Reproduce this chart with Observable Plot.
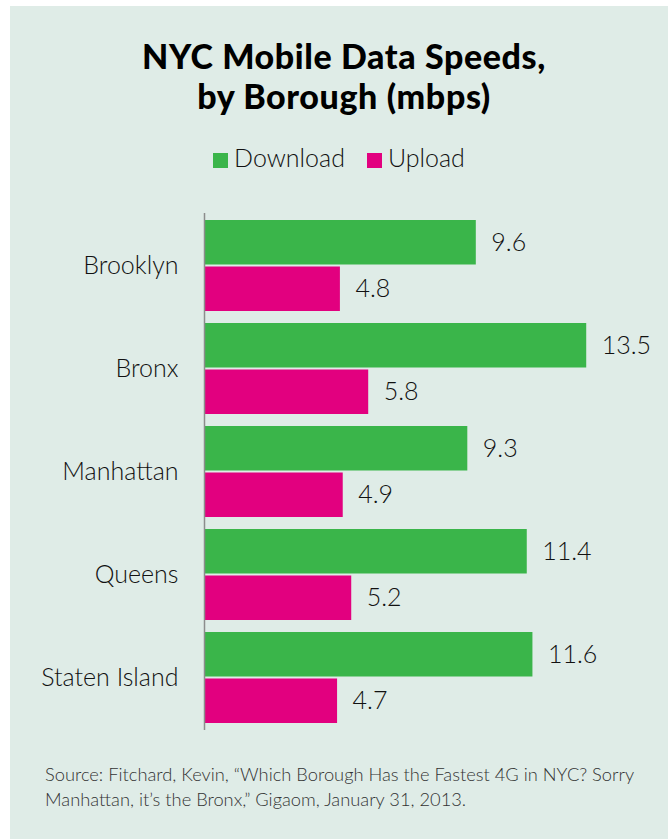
<!DOCTYPE html>
<html>
<head>
<meta charset="utf-8">
<script src="https://cdn.jsdelivr.net/npm/d3@7"></script>
<script src="https://cdn.jsdelivr.net/npm/@observablehq/plot@0.6"></script>
<style>
  html, body { margin: 0; padding: 0; background: #ffffff; }
  #page { position: relative; width: 668px; height: 839px; overflow: hidden; background: #ffffff; }
  #panel { position: absolute; left: 10px; top: 6px; width: 658px; height: 833px; background: #dfece7; }
  #title { position: absolute; left: 10px; width: 668px; top: 36px; text-align: center;
    font-family: Lato, "Open Sans", sans-serif; font-weight: 900; font-size: 34px; line-height: 40px; color: #000; letter-spacing: 0.6px; }
  #legend { position: absolute; left: 10px; width: 658px; top: 142px; text-align: center;
    font-family: Lato, sans-serif; font-weight: 300; font-size: 25px; line-height: 30px; color: #111; }
  #legend .sw { display: inline-block; width: 15px; height: 15px; vertical-align: -1px; margin-right: 6px; }
  #legend .item { margin: 0 11px; }
  #chart { position: absolute; left: 0; top: 0; }
  #caption { position: absolute; left: 45px; top: 762px; width: 630px; white-space: nowrap;
    font-family: Lato, sans-serif; font-weight: 300; font-size: 18.3px; line-height: 25px; color: #333; }
</style>
</head>
<body>
<div id="page">
  <div id="panel"></div>
  <div id="title">NYC Mobile Data Speeds,<br>by Borough (mbps)</div>
  <div id="legend"></div>
  <div id="chart"></div>
  <div id="caption">Source: Fitchard, Kevin, “Which Borough Has the Fastest 4G in NYC? Sorry<br>Manhattan, it’s the Bronx,” Gigaom, January 31, 2013.</div>
</div>
<script>
const boroughs = ["Brooklyn", "Bronx", "Manhattan", "Queens", "Staten Island"];
const download = [9.6, 13.5, 9.3, 11.4, 11.6];
const upload = [4.8, 5.8, 4.9, 5.2, 4.7];
const seriesNames = ["Download", "Upload"];
const seriesColors = ["#3ab54a", "#e2007f"];

const dl = boroughs.map((b, i) => ({borough: b, value: download[i]}));
const ul = boroughs.map((b, i) => ({borough: b, value: upload[i]}));

const half = 46;

const plot = Plot.plot({
  width: 668,
  height: 839,
  marginTop: 213,
  marginBottom: 109,
  marginLeft: 204,
  marginRight: 11,
  style: {background: "transparent", fontFamily: "Lato, sans-serif", fontSize: "25px", fontWeight: 300, color: "#111"},
  x: {domain: [0, 16], axis: null},
  y: {domain: boroughs, paddingInner: 0.113, paddingOuter: 0.048, tickSize: 0, tickPadding: 26, label: null},
  marks: [
    Plot.barX(dl, {x: "value", y: "borough", fill: seriesColors[0], insetBottom: half + 0.5}),
    Plot.barX(ul, {x: "value", y: "borough", fill: seriesColors[1], insetTop: half + 0.5}),
    Plot.text(dl, {x: "value", y: "borough", text: d => d.value.toFixed(1), dx: 15, dy: -23, textAnchor: "start", fill: "#111"}),
    Plot.text(ul, {x: "value", y: "borough", text: d => d.value.toFixed(1), dx: 15, dy: 23, textAnchor: "start", fill: "#111"}),
    Plot.ruleX([0], {stroke: "#8c8c8c", strokeWidth: 1.5})
  ]
});
document.getElementById("chart").appendChild(plot);

const legend = document.getElementById("legend");
seriesNames.forEach((n, i) => {
  const item = document.createElement("span");
  item.className = "item";
  const sw = document.createElement("span");
  sw.className = "sw";
  sw.style.background = seriesColors[i];
  item.appendChild(sw);
  item.appendChild(document.createTextNode(n));
  legend.appendChild(item);
});
</script>
</body>
</html>
